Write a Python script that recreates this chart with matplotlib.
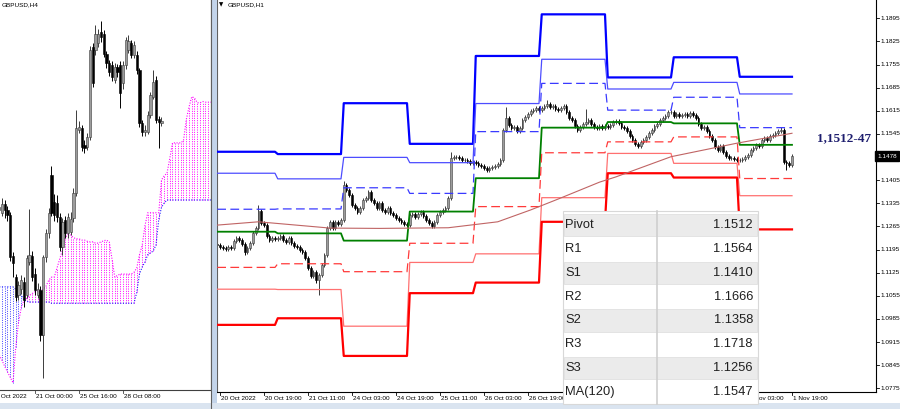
import numpy as np
import matplotlib
matplotlib.use("Agg")
import matplotlib.pyplot as plt
from matplotlib.patches import Rectangle
from matplotlib.lines import Line2D
from matplotlib import font_manager

# ---------------- GBPUSD,H1 (right window) ----------------
# bar index: 0 = 20 Oct 00:00, one step per trading hour
h1_first = 2
h1_open0 = 1.1212
h1_close = [
    # 20 Oct (02:00 ..)
    1.1209, 1.1203, 1.1200, 1.1197, 1.1203, 1.1200, 1.1221, 1.1230, 1.1224, 1.1212, 1.1188,
    1.1200, 1.1215, 1.1245, 1.1260, 1.1312, 1.1275, 1.1268, 1.1236, 1.1224, 1.1230, 1.1228,
    # 21 Oct
    1.1230, 1.1236, 1.1224, 1.1218, 1.1230, 1.1215, 1.1206, 1.1203, 1.1194, 1.1188, 1.1169, 1.1139,
    1.1115, 1.1127, 1.1103, 1.1118, 1.1148, 1.1179, 1.1260, 1.1278, 1.1260, 1.1278, 1.1272, 1.1284,
    # 24 Oct
    1.1390, 1.1375, 1.1360, 1.1330, 1.1321, 1.1309, 1.1321, 1.1345, 1.1351, 1.1369, 1.1345, 1.1336,
    1.1321, 1.1336, 1.1315, 1.1309, 1.1321, 1.1306, 1.1300, 1.1291, 1.1285, 1.1278, 1.1272, 1.1269,
    # 25 Oct
    1.1300, 1.1303, 1.1294, 1.1303, 1.1309, 1.1297, 1.1285, 1.1275, 1.1266, 1.1278, 1.1300, 1.1309,
    1.1315, 1.1321, 1.1351, 1.1472, 1.1475, 1.1475, 1.1472, 1.1466, 1.1466, 1.1463, 1.1457, 1.1460,
    # 26 Oct
    1.1457, 1.1451, 1.1448, 1.1442, 1.1436, 1.1442, 1.1445, 1.1448, 1.1454, 1.1466, 1.1557, 1.1593,
    1.1572, 1.1563, 1.1566, 1.1554, 1.1563, 1.1587, 1.1596, 1.1605, 1.1614, 1.1617, 1.1623, 1.1617,
    # 27 Oct
    1.1623, 1.1630, 1.1636, 1.1627, 1.1630, 1.1620, 1.1617, 1.1623, 1.1630, 1.1611, 1.1593, 1.1587,
    1.1569, 1.1557, 1.1566, 1.1575, 1.1581, 1.1587, 1.1575, 1.1566, 1.1563, 1.1569, 1.1563, 1.1569,
    # 28 Oct
    1.1566, 1.1572, 1.1581, 1.1584, 1.1578, 1.1566, 1.1563, 1.1554, 1.1539, 1.1527, 1.1515, 1.1508,
    1.1521, 1.1527, 1.1536, 1.1548, 1.1557, 1.1569, 1.1575, 1.1587, 1.1593, 1.1599, 1.1611, 1.1611,
    # 31 Oct
    1.1599, 1.1605, 1.1599, 1.1602, 1.1605, 1.1599, 1.1608, 1.1602, 1.1593, 1.1575, 1.1563, 1.1566,
    1.1554, 1.1539, 1.1527, 1.1505, 1.1496, 1.1508, 1.1490, 1.1478, 1.1472, 1.1472, 1.1469, 1.1466,
    # 1 Nov (.. 19:00)
    1.1466, 1.1469, 1.1475, 1.1481, 1.1496, 1.1502, 1.1512, 1.1508, 1.1527, 1.1533, 1.1527, 1.1539,
    1.1542, 1.1548, 1.1554, 1.1557, 1.1460, 1.1457, 1.1451, 1.1478,
]
h1_wick = 0.0006
h1_high_spike = {17: 1.1330, 48: 1.1402, 87: 1.1490, 107: 1.1626, 122: 1.1648,
                 136: 1.1620, 147: 1.1590, 207: 1.1566}
h1_low_spike = {12: 1.1180, 38: 1.1095, 39: 1.1057, 100: 1.1430, 155: 1.1502, 209: 1.1436}

# daily pivot levels: 20, 21, 24, 25, 26, 27, 28, 31 Oct, 1 Nov
lvl_r3 = [1.1491, 1.1484, 1.1638, 1.1515, 1.1781, 1.1907, 1.1716, 1.1777, 1.1718]
lvl_r2 = [1.1426, 1.1409, 1.1474, 1.1458, 1.1637, 1.1771, 1.1681, 1.1701, 1.1666]
lvl_r1 = [1.1317, 1.1318, 1.1382, 1.1365, 1.1552, 1.1698, 1.1617, 1.1656, 1.1564]
lvl_p = [1.1249, 1.1244, 1.1222, 1.1310, 1.1411, 1.1564, 1.1581, 1.1577, 1.1512]
lvl_s1 = [1.1141, 1.1152, 1.1128, 1.1214, 1.1325, 1.1488, 1.1521, 1.1536, 1.1410]
lvl_s2 = [1.1075, 1.1074, 1.0963, 1.1156, 1.1182, 1.1352, 1.1486, 1.1456, 1.1358]
lvl_s3 = [1.0967, 1.0987, 1.0873, 1.1063, 1.1095, 1.1279, 1.1426, 1.1413, 1.1256]

ma_idx = [2, 17, 43, 61, 86, 104, 116, 126, 141, 147, 167, 191, 211]
ma_val = [1.1269, 1.1279, 1.1260, 1.1259, 1.1261, 1.1279, 1.1315, 1.1348, 1.1399,
          1.1415, 1.1476, 1.1517, 1.1547]

# time labels; the ones under the pivot table are not visible in the screenshot
h1_tick_idx = [3, 19, 35, 51, 67, 83, 99, 115, 195, 211]
h1_tick_lbl = ["20 Oct 2022", "20 Oct 19:00", "21 Oct 11:00", "24 Oct 03:00", "24 Oct 19:00",
               "25 Oct 11:00", "26 Oct 03:00", "26 Oct 19:00", "1 Nov 03:00", "1 Nov 19:00"]
h1_hidden_ticks = [131, 147, 163, 179]
price_ticks = [1.1895, 1.1825, 1.1755, 1.1685, 1.1615, 1.1545, 1.1475, 1.1405, 1.1335,
               1.1265, 1.1195, 1.1125, 1.1055, 1.0985, 1.0915, 1.0845, 1.0775]
last_price = 1.1478
note_text = "1,1512-47"
note_pos = (230, 1.1533)

table_names = ["Pivot", "R1", "S1", "R2", "S2", "R3", "S3", "MA(120)"]
table_vals = ["1.1512", "1.1564", "1.1410", "1.1666", "1.1358", "1.1718", "1.1256", "1.1547"]

# ---------------- GBPUSD,H4 (left window) ----------------
# bar index: 0 = 21 Oct 00:00, one step per 4 hours
h4_first = -13
h4_open = [1.1335, 1.1330, 1.1345, 1.1335, 1.1327, 1.1260, 1.1225, 1.1195, 1.1205, 1.1217,
           1.1195, 1.1250, 1.1260, 1.1230, 1.1195, 1.1204, 1.1130, 1.1258, 1.1298, 1.1393,
           1.1349, 1.1347, 1.1324, 1.1275, 1.1319, 1.1298, 1.1300, 1.1322, 1.1364, 1.1468,
           1.1470, 1.1442, 1.1440, 1.1456, 1.1604, 1.1599, 1.1610, 1.1629, 1.1626, 1.1593,
           1.1577, 1.1574, 1.1550, 1.1571, 1.1574, 1.1544, 1.1574, 1.1599, 1.1610, 1.1591,
           1.1591, 1.1566, 1.1478, 1.1464, 1.1464, 1.1492, 1.1522, 1.1550, 1.1486, 1.1478]
h4_high = [1.1352, 1.1356, 1.1352, 1.1342, 1.1333, 1.1266, 1.1230, 1.1218, 1.1228, 1.1225,
           1.1262, 1.1337, 1.1268, 1.1240, 1.1216, 1.1210, 1.1262, 1.1305, 1.1338, 1.1408,
           1.1362, 1.1360, 1.1330, 1.1322, 1.1325, 1.1330, 1.1332, 1.1372, 1.1500, 1.1482,
           1.1476, 1.1450, 1.1462, 1.1606, 1.1610, 1.1640, 1.1634, 1.1646, 1.1632, 1.1598,
           1.1582, 1.1580, 1.1577, 1.1576, 1.1580, 1.1580, 1.1620, 1.1624, 1.1616, 1.1614,
           1.1597, 1.1570, 1.1484, 1.1476, 1.1498, 1.1530, 1.1566, 1.1556, 1.1490, 1.1488]
h4_low = [1.1325, 1.1325, 1.1322, 1.1318, 1.1252, 1.1225, 1.1185, 1.1188, 1.1198, 1.1176,
          1.1190, 1.1245, 1.1218, 1.1196, 1.1190, 1.1120, 1.1059, 1.1250, 1.1290, 1.1325,
          1.1318, 1.1315, 1.1268, 1.1262, 1.1290, 1.1290, 1.1294, 1.1315, 1.1358, 1.1462,
          1.1432, 1.1430, 1.1435, 1.1450, 1.1538, 1.1590, 1.1604, 1.1612, 1.1588, 1.1570,
          1.1556, 1.1548, 1.1545, 1.1555, 1.1503, 1.1535, 1.1568, 1.1594, 1.1586, 1.1586,
          1.1560, 1.1472, 1.1458, 1.1458, 1.1460, 1.1487, 1.1518, 1.1478, 1.1437, 1.1474]
h4_close = [1.1340, 1.1345, 1.1335, 1.1328, 1.1258, 1.1248, 1.1192, 1.1212, 1.1220, 1.1188,
            1.1256, 1.1262, 1.1225, 1.1204, 1.1206, 1.1130, 1.1258, 1.1298, 1.1331, 1.1331,
            1.1327, 1.1324, 1.1275, 1.1315, 1.1298, 1.1324, 1.1320, 1.1364, 1.1470, 1.1472,
            1.1440, 1.1437, 1.1456, 1.1599, 1.1544, 1.1626, 1.1626, 1.1621, 1.1593, 1.1577,
            1.1563, 1.1555, 1.1571, 1.1562, 1.1528, 1.1574, 1.1615, 1.1613, 1.1591, 1.1607,
            1.1566, 1.1478, 1.1464, 1.1468, 1.1492, 1.1525, 1.1547, 1.1484, 1.1480, 1.1482]

# Ichimoku cloud (already shifted 26 bars forward)
cloud_first = -13
span_a = [1.1097, 1.1088, 1.1078, 1.1069, 1.1060, 1.1051, 1.1110, 1.1150, 1.1175, 1.1187,
          1.1190, 1.1195, 1.1198, 1.1201, 1.1203, 1.1203, 1.1205, 1.1210, 1.1220, 1.1225,
          1.1225, 1.1240, 1.1255, 1.1270, 1.1290, 1.1296, 1.1294, 1.1290, 1.1288, 1.1288,
          1.1286, 1.1286, 1.1284, 1.1283, 1.1283, 1.1281, 1.1281, 1.1283, 1.1285, 1.1286,
          1.1283, 1.1255, 1.1225, 1.1228, 1.1230, 1.1230, 1.1230, 1.1230, 1.1230, 1.1233,
          1.1240, 1.1262, 1.1278, 1.1310, 1.1331, 1.1331, 1.1331, 1.1331, 1.1331, 1.1385,
          1.1392, 1.1396, 1.1420, 1.1446, 1.1446, 1.1446, 1.1446, 1.1450, 1.1484, 1.1505,
          1.1522, 1.1520, 1.1512, 1.1512, 1.1514, 1.1513, 1.1513, 1.1513]
span_b = ([1.1209] * 6 + [1.1205, 1.1200, 1.1195, 1.1187, 1.1185, 1.1184, 1.1184]
          + [1.1184] * 6 + [1.1182] * 31
          + [1.1200, 1.1230, 1.1242, 1.1250, 1.1262, 1.1265, 1.1268, 1.1278, 1.1320, 1.1340, 1.1347]
          + [1.1352] * 17)

h4_tick_idx = [-16, 0, 16, 32]
h4_tick_lbl = ["18 Oct 2022", "21 Oct 00:00", "25 Oct 16:00", "28 Oct 08:00"]

# ---------------- fonts ----------------
names = {f.name for f in font_manager.fontManager.ttflist}
if "Liberation Sans Narrow" in names:
    small_font, small_size = ["Liberation Sans Narrow", "DejaVu Sans"], 5.4
else:
    small_font, small_size = ["Liberation Sans", "DejaVu Sans"], 4.6

W, H = 900, 409


def fx(x):
    return x / W


def fy(y):
    return 1 - y / H


def draw_candles(ax, x, o, h, l, c, width):
    x, o, h, l, c = map(np.asarray, (x, o, h, l, c))
    up = c >= o
    ax.vlines(x[up], l[up], h[up], color="#3c3c3c", lw=0.7, zorder=2)
    ax.vlines(x[~up], l[~up], h[~up], color="black", lw=0.7, zorder=2)
    body = np.maximum(np.abs(c - o), 0.00015)
    bot = np.minimum(o, c)
    ax.bar(x[up], body[up], width, bottom=bot[up], color="#9c9c9c",
           edgecolor="#3a3a3a", lw=0.4, zorder=2.5)
    ax.bar(x[~up], body[~up], width, bottom=bot[~up], color="black",
           edgecolor="black", lw=0.4, zorder=2.5)


fig = plt.figure(figsize=(9, 4.09), dpi=100, facecolor="white")

# ===== left window: H4 with Ichimoku cloud =====
ax1 = fig.add_axes([0, fy(390), fx(211), 390 / H])
ax1.set_xlim(-12.727, 64.0)
ax1.set_ylim(1.10392, 1.16812)
ax1.set_xticks([])
ax1.set_yticks([])
for s in ("top", "left"):
    ax1.spines[s].set_visible(False)
for s in ("right", "bottom"):
    ax1.spines[s].set_color("#404040")
    ax1.spines[s].set_linewidth(0.8)

ja = np.arange(cloud_first, cloud_first + len(span_a))
A = np.array(span_a)
B = np.array(span_b)
bull = A >= B
dot = (0, (1, 1.4))
ax1.vlines(ja[bull], np.minimum(A, B)[bull], np.maximum(A, B)[bull],
           colors="#ff00ff", linestyles=dot, lw=0.7, zorder=1)
ax1.vlines(ja[~bull], np.minimum(A, B)[~bull], np.maximum(A, B)[~bull],
           colors="#3a3aff", linestyles=dot, lw=0.7, zorder=1)
ax1.plot(ja, A, color="#ff00ff", ls=dot, lw=0.8, zorder=1)
ax1.plot(ja, B, color="#2020ff", ls=dot, lw=0.8, zorder=1)

jx = np.arange(h4_first, h4_first + len(h4_close))
draw_candles(ax1, jx, h4_open, h4_high, h4_low, h4_close, 0.8)

xt1 = ax1.get_xaxis_transform()
for j, lbl in zip(h4_tick_idx, h4_tick_lbl):
    ax1.plot([j, j], [0, -3 / 390], transform=xt1, color="#404040", lw=0.6, clip_on=False)
    ax1.text(j + 0.3, -7 / 390, lbl, transform=xt1, ha="left", va="center",
             family=small_font, fontsize=small_size, clip_on=False)
fig.text(fx(2), fy(5), "GBPUSD,H4", ha="left", va="center",
         family=small_font, fontsize=small_size)

# ===== right window: H1 with daily pivots =====
ax2 = fig.add_axes([fx(217), fy(392), (876 - 217) / W, 392 / H])
ax2.set_xlim(1.909, 241.55)
ax2.set_ylim(1.07638, 1.19504)
ax2.set_xticks([])
ax2.set_yticks([])
ax2.spines["top"].set_visible(False)
ax2.spines["left"].set_color("#606060")
ax2.spines["left"].set_linewidth(0.8)
for s in ("right", "bottom"):
    ax2.spines[s].set_color("black")
    ax2.spines[s].set_linewidth(0.8)

ix = np.arange(h1_first, h1_first + len(h1_close))
c = np.array(h1_close)
o = np.r_[h1_open0, c[:-1]]
h = np.maximum(o, c) + h1_wick
l = np.minimum(o, c) - h1_wick
for k, v in h1_high_spike.items():
    h[k - h1_first] = v
for k, v in h1_low_spike.items():
    l[k - h1_first] = v
draw_candles(ax2, ix, o, h, l, c, 0.6)

day = ix // 24
level_style = [
    (lvl_r3, dict(color="#0000ff", lw=1.6)),
    (lvl_r2, dict(color="#4d4dff", lw=0.9)),
    (lvl_r1, dict(color="#3a3aff", lw=0.9, dashes=(7, 3.5))),
    (lvl_p, dict(color="#008000", lw=1.3)),
    (lvl_s1, dict(color="#ff3a3a", lw=0.9, dashes=(7, 3.5))),
    (lvl_s2, dict(color="#ff7070", lw=0.9)),
    (lvl_s3, dict(color="#ff0000", lw=1.6)),
]
for vals, st in level_style:
    ax2.plot(ix, np.array(vals)[day], zorder=3, **st)
ax2.plot(ma_idx, ma_val, color="#c06464", lw=0.8, zorder=3)

# the table sits over the lower right of the chart; labels are clipped at its right edge
clip_rect = Rectangle((fx(758), 0), 1, 1, transform=fig.transFigure, visible=False)
fig.add_artist(clip_rect)
xt2 = ax2.get_xaxis_transform()
for i in h1_tick_idx + h1_hidden_ticks:
    ax2.plot([i, i], [0, -3 / 392], transform=xt2, color="black", lw=0.6, clip_on=False)
for i, lbl in zip(h1_tick_idx, h1_tick_lbl):
    t = ax2.text(i + 0.3, -6.5 / 392, lbl, transform=xt2, ha="left", va="center",
                 family=small_font, fontsize=small_size, clip_on=False)
    if 562 < 220 + (i - 3) * 2.75 < 758:
        t.set_clip_path(clip_rect)
        t.set_clip_on(True)

yt2 = ax2.get_yaxis_transform()
for p in price_ticks:
    ax2.plot([1, 1 + 3 / 659], [p, p], transform=yt2, color="black", lw=0.6, clip_on=False)
    if abs(p - last_price) > 0.001:
        ax2.text(1 + 4 / 659, p, f"{p:.4f}", transform=yt2, ha="left", va="center",
                 family=small_font, fontsize=small_size, clip_on=False)
ax2.text(1 + 1.5 / 659, last_price, f"{last_price:.4f}", transform=yt2, ha="left", va="center",
         family=small_font, fontsize=small_size, color="white", clip_on=False, zorder=10,
         bbox=dict(boxstyle="square,pad=0.35", fc="black", ec="black"))

ax2.text(note_pos[0], note_pos[1], note_text, ha="center", va="center", color="#1d1d6e",
         family=["Liberation Serif", "DejaVu Serif"], fontweight="bold", fontsize=9.5)

fig.text(fx(219), fy(5), "\u25bc", ha="left", va="center", family="DejaVu Sans", fontsize=4)
fig.text(fx(228), fy(5), "GBPUSD,H1", ha="left", va="center",
         family=small_font, fontsize=small_size)

# window frame pieces
fig.add_artist(Rectangle((fx(211.5), 0), 5 / W, 1, transform=fig.transFigure,
                         fc="#c3d4ea", ec="none", zorder=1))
fig.add_artist(Line2D([fx(211), fx(211)], [fy(409), 1], transform=fig.transFigure,
                      color="#606060", lw=0.8))
fig.add_artist(Rectangle((0, 0), 1, 6 / H, transform=fig.transFigure,
                         fc="#dae4f0", ec="none", zorder=1))

# ===== pivot table overlay =====
tab_l, tab_r, tab_div = 562.5, 758.0, 657.0
row_top, row_h = 213.3, 23.8
fig.add_artist(Rectangle((fx(tab_l), fy(row_top + row_h * len(table_names))),
                         (tab_r - tab_l) / W, (row_h * len(table_names) + 2.5) / H,
                         transform=fig.transFigure, fc="white", ec="#d8d8d8", lw=0.8, zorder=5))
for k, (name, val) in enumerate(zip(table_names, table_vals)):
    top = row_top + k * row_h
    if k % 2 == 0:
        fig.add_artist(Rectangle((fx(tab_l + 1), fy(top + row_h - 0.8)), (tab_r - tab_l - 2) / W,
                                 (row_h - 1.6) / H, transform=fig.transFigure,
                                 fc="#ebebeb", ec="#dcdcdc", lw=0.5, zorder=5.5))
    mid = top + row_h / 2
    fig.text(fx(tab_l + 3), fy(mid), name, ha="left", va="center", color="#202020",
             family=["Liberation Sans", "DejaVu Sans"], fontsize=9.3, zorder=7)
    fig.text(fx(tab_r - 5), fy(mid), val, ha="right", va="center", color="#202020",
             family=["Liberation Sans", "DejaVu Sans"], fontsize=9.3, zorder=7)
fig.add_artist(Line2D([fx(tab_div), fx(tab_div)],
                      [fy(row_top + row_h * len(table_names)), fy(row_top - 2)],
                      transform=fig.transFigure, color="#cfcfcf", lw=1.2, zorder=6))

fig.savefig("out.png", dpi=100, facecolor="white")
